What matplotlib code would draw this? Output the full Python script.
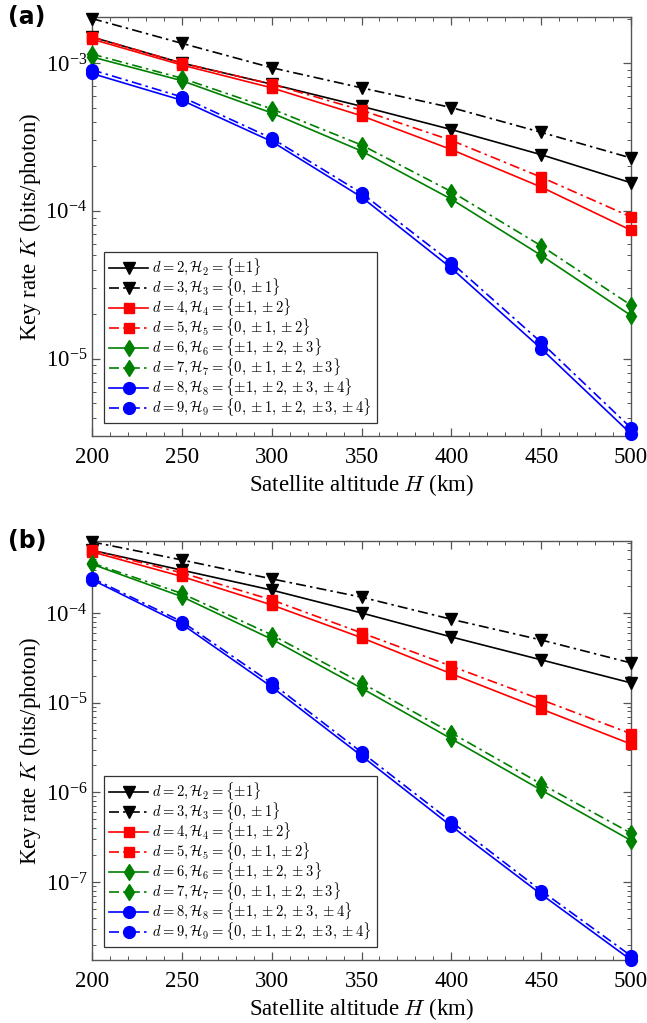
import numpy as np
import matplotlib
matplotlib.use("Agg")
from matplotlib import pyplot
from matplotlib.ticker import LogLocator, MultipleLocator, NullFormatter

pyplot.rcParams['font.family'] = ['Liberation Serif', 'DejaVu Serif']
pyplot.rcParams['mathtext.fontset'] = 'cm'

altitude = [200, 250, 300, 350, 400, 450, 500]
dims = [2, 3, 4, 5, 6, 7, 8, 9]
alphabets = [r'\{\pm1\}', r'\{0,\pm1\}', r'\{\pm1,\pm2\}', r'\{0,\pm1,\pm2\}',
             r'\{\pm1,\pm2,\pm3\}', r'\{0,\pm1,\pm2,\pm3\}',
             r'\{\pm1,\pm2,\pm3,\pm4\}', r'\{0,\pm1,\pm2,\pm3,\pm4\}']

# key rate for panel (a), one list per dimension d
rate_a = {
    2: [1.50e-3, 1.00e-3, 7.2e-4, 5.1e-4, 3.55e-4, 2.4e-4, 1.55e-4],
    3: [2.00e-3, 1.36e-3, 9.3e-4, 6.8e-4, 5.0e-4, 3.4e-4, 2.28e-4],
    4: [1.45e-3, 0.97e-3, 6.8e-4, 4.4e-4, 2.6e-4, 1.45e-4, 7.4e-5],
    5: [1.50e-3, 1.00e-3, 7.2e-4, 4.8e-4, 3.0e-4, 1.69e-4, 9.1e-5],
    6: [1.10e-3, 7.6e-4, 4.6e-4, 2.54e-4, 1.2e-4, 5.0e-5, 1.96e-5],
    7: [1.15e-3, 7.9e-4, 4.9e-4, 2.79e-4, 1.35e-4, 5.8e-5, 2.3e-5],
    8: [8.5e-4, 5.6e-4, 2.95e-4, 1.24e-4, 4.1e-5, 1.17e-5, 3.1e-6],
    9: [9.0e-4, 5.9e-4, 3.1e-4, 1.32e-4, 4.47e-5, 1.29e-5, 3.4e-6],
}

# key rate for panel (b)
rate_b = {
    2: [5.0e-4, 3.0e-4, 1.8e-4, 1.0e-4, 5.4e-5, 3.0e-5, 1.66e-5],
    3: [6.2e-4, 3.9e-4, 2.4e-4, 1.5e-4, 8.5e-5, 5.0e-5, 2.77e-5],
    4: [4.8e-4, 2.55e-4, 1.23e-4, 5.3e-5, 2.1e-5, 8.5e-6, 3.45e-6],
    5: [5.0e-4, 2.8e-4, 1.4e-4, 6.0e-5, 2.55e-5, 1.08e-5, 4.5e-6],
    6: [3.5e-4, 1.52e-4, 5.1e-5, 1.45e-5, 3.95e-6, 1.06e-6, 2.9e-7],
    7: [3.6e-4, 1.65e-4, 5.7e-5, 1.66e-5, 4.6e-6, 1.24e-6, 3.5e-7],
    8: [2.35e-4, 7.5e-5, 1.5e-5, 2.55e-6, 4.2e-7, 7.3e-8, 1.35e-8],
    9: [2.45e-4, 8.0e-5, 1.65e-5, 2.8e-6, 4.7e-7, 8.0e-8, 1.5e-8],
}

colors = {2: 'k', 3: 'k', 4: '#ff0000', 5: '#ff0000',
          6: '#008000', 7: '#008000', 8: '#0000ff', 9: '#0000ff'}
markers = {2: 'v', 3: 'v', 4: 's', 5: 's', 6: 'd', 7: 'd', 8: 'o', 9: 'o'}
msizes = {'v': 8.5, 's': 7.5, 'd': 8, 'o': 8.5}
dashdot = (0, (6, 2.5, 1.5, 2.5))


def draw_panel(ax, rates, ylim, tag):
    for d, alph in zip(dims, alphabets):
        style = '-' if d % 2 == 0 else dashdot
        m = markers[d]
        ax.plot(altitude, rates[d], linestyle=style, color=colors[d],
                marker=m, markersize=msizes[m], linewidth=1.2,
                label=r'$d=%d,\mathcal{H}_{%d}=%s$' % (d, d, alph),
                clip_on=False, zorder=3)
    ax.set_yscale('log')
    ax.set_xlim(200, 500)
    ax.set_ylim(*ylim)
    ax.xaxis.set_major_locator(MultipleLocator(50))
    ax.xaxis.set_minor_locator(MultipleLocator(10))
    ax.yaxis.set_major_locator(LogLocator(base=10, numticks=20))
    ax.yaxis.set_minor_locator(LogLocator(base=10, subs=np.arange(2, 10), numticks=20))
    ax.yaxis.set_minor_formatter(NullFormatter())
    ax.tick_params(which='both', direction='in', top=True, right=True,
                   color='#555555', labelsize=16.5)
    ax.tick_params(which='major', length=6, width=0.9)
    ax.tick_params(which='minor', length=3, width=0.7)
    ax.tick_params(axis='x', pad=8)
    for s in ax.spines.values():
        s.set_color('#555555')
        s.set_linewidth(1.0)
    ax.set_xlabel(r'Satellite altitude $H$ (km)', fontsize=16.5, labelpad=3)
    ax.set_ylabel(r'Key rate $K$ (bits/photon)', fontsize=16.5, labelpad=2)
    leg = ax.legend(loc='lower left', bbox_to_anchor=(0.022, 0.031),
                    fontsize=10.5, fancybox=False, framealpha=1,
                    edgecolor='#333333', labelspacing=-0.08, handlelength=2.7,
                    handletextpad=0.25, borderpad=0.35, borderaxespad=0)
    leg.get_frame().set_linewidth(0.9)
    ax.text(-0.155, 1.0, tag, transform=ax.transAxes, fontsize=17,
            fontweight='bold', family='DejaVu Sans', va='center', ha='left')


figure = pyplot.figure(figsize=(6.47, 10.23), dpi=100)
ax_a = figure.add_axes([0.1422, 0.5738, 0.8331, 0.4096])
ax_b = figure.add_axes([0.1422, 0.0616, 0.8331, 0.4096])

draw_panel(ax_a, rate_a, (3.0e-6, 2.05e-3), '(a)')
draw_panel(ax_b, rate_b, (1.35e-8, 6.35e-4), '(b)')

figure.savefig('out.png', dpi=100)
